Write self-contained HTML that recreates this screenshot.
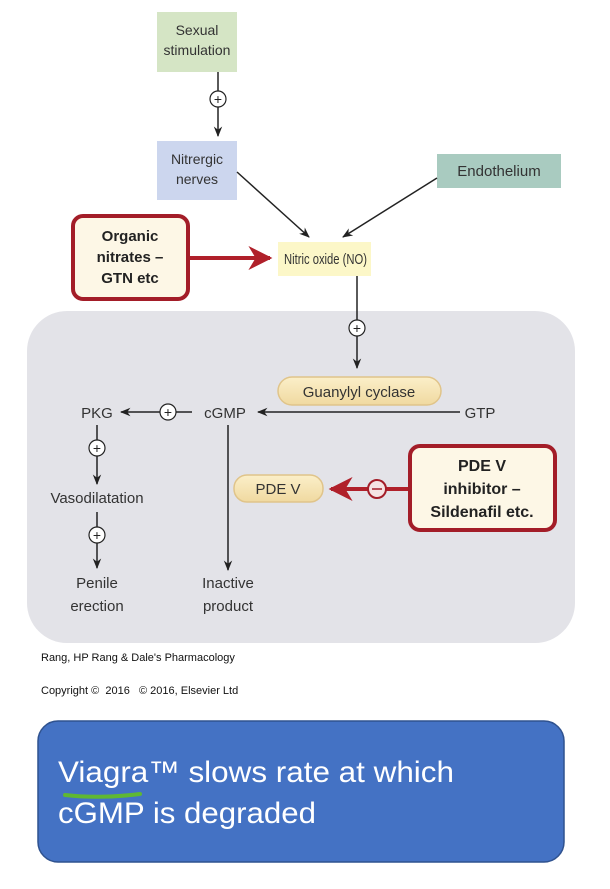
<!DOCTYPE html>
<html><head><meta charset="utf-8"><style>
html,body{margin:0;padding:0;background:#fff;}
svg{display:block;}
</style></head><body>
<svg width="610" height="889" viewBox="0 0 610 889" xmlns="http://www.w3.org/2000/svg" font-family="Liberation Sans, Arial, sans-serif">
<defs>
<marker id="a" viewBox="0 0 10 10" refX="9" refY="5" markerWidth="7" markerHeight="7" orient="auto"><path d="M0,1 L10,5 L0,9 L3,5z" fill="#222"/></marker>
<marker id="r" viewBox="0 0 10 10" refX="9" refY="5" markerWidth="6" markerHeight="6" orient="auto"><path d="M0,0 L10,5 L0,10 L3,5z" fill="#b0202a"/></marker>
<linearGradient id="pill" x1="0" y1="0" x2="0" y2="1"><stop offset="0" stop-color="#fbefc9"/><stop offset="1" stop-color="#f0d9a0"/></linearGradient>
</defs>
<rect x="27" y="311" width="548" height="332" rx="40" fill="#e3e3e8"/>
<rect x="157" y="12" width="80" height="60" fill="#d5e5c5"/>
<text x="197" y="35" font-size="14" text-anchor="middle" fill="#333">Sexual</text>
<text x="197" y="55" font-size="14" text-anchor="middle" fill="#333">stimulation</text>
<line x1="218" y1="72" x2="218" y2="136" stroke="#222" stroke-width="1.5" marker-end="url(#a)"/>
<circle cx="218" cy="99" r="8" fill="#fff" stroke="#222" stroke-width="1.2"/>
<text x="218" y="104" font-size="14" text-anchor="middle" fill="#222">+</text>
<rect x="157" y="141" width="80" height="59" fill="#ccd6ee"/>
<text x="197" y="164" font-size="14" text-anchor="middle" fill="#333">Nitrergic</text>
<text x="197" y="184" font-size="14" text-anchor="middle" fill="#333">nerves</text>
<rect x="437" y="154" width="124" height="34" fill="#a9cbc0"/>
<text x="499" y="176" font-size="15" text-anchor="middle" fill="#333">Endothelium</text>
<line x1="237" y1="172" x2="309" y2="237" stroke="#222" stroke-width="1.5" marker-end="url(#a)"/>
<line x1="437" y1="178" x2="343" y2="237" stroke="#222" stroke-width="1.5" marker-end="url(#a)"/>
<rect x="278" y="242" width="93" height="34" fill="#fcf7c8"/>
<text x="284" y="264" font-size="15" fill="#333" textLength="83" lengthAdjust="spacingAndGlyphs">Nitric oxide (NO)</text>
<rect x="73" y="216" width="115" height="83" rx="10" fill="#fdf7e6" stroke="#a31d28" stroke-width="4"/>
<text x="130" y="241" font-size="15" font-weight="bold" text-anchor="middle" fill="#222">Organic</text>
<text x="130" y="262" font-size="15" font-weight="bold" text-anchor="middle" fill="#222">nitrates –</text>
<text x="130" y="283" font-size="15" font-weight="bold" text-anchor="middle" fill="#222">GTN etc</text>
<line x1="190" y1="258" x2="270" y2="258" stroke="#b0202a" stroke-width="4" marker-end="url(#r)"/>
<line x1="357" y1="276" x2="357" y2="368" stroke="#222" stroke-width="1.5" marker-end="url(#a)"/>
<circle cx="357" cy="328" r="8" fill="#fff" stroke="#222" stroke-width="1.2"/>
<text x="357" y="333" font-size="14" text-anchor="middle" fill="#222">+</text>
<rect x="278" y="377" width="163" height="28" rx="14" fill="url(#pill)" stroke="#e0c48a" stroke-width="1.5"/>
<text x="359" y="397" font-size="15" text-anchor="middle" fill="#333">Guanylyl cyclase</text>
<text x="97" y="418" font-size="15" text-anchor="middle" fill="#333">PKG</text>
<text x="225" y="418" font-size="15" text-anchor="middle" fill="#333">cGMP</text>
<text x="480" y="418" font-size="15" text-anchor="middle" fill="#333">GTP</text>
<line x1="460" y1="412" x2="258" y2="412" stroke="#222" stroke-width="1.5" marker-end="url(#a)"/>
<line x1="192" y1="412" x2="121" y2="412" stroke="#222" stroke-width="1.5" marker-end="url(#a)"/>
<circle cx="168" cy="412" r="8" fill="#fff" stroke="#222" stroke-width="1.2"/>
<text x="168" y="417" font-size="14" text-anchor="middle" fill="#222">+</text>
<line x1="228" y1="425" x2="228" y2="570" stroke="#222" stroke-width="1.5" marker-end="url(#a)"/>
<text x="228" y="588" font-size="15" text-anchor="middle" fill="#333">Inactive</text>
<text x="228" y="611" font-size="15" text-anchor="middle" fill="#333">product</text>
<line x1="97" y1="425" x2="97" y2="484" stroke="#222" stroke-width="1.5" marker-end="url(#a)"/>
<circle cx="97" cy="448" r="8" fill="#fff" stroke="#222" stroke-width="1.2"/>
<text x="97" y="453" font-size="14" text-anchor="middle" fill="#222">+</text>
<text x="97" y="503" font-size="15" text-anchor="middle" fill="#333">Vasodilatation</text>
<line x1="97" y1="512" x2="97" y2="568" stroke="#222" stroke-width="1.5" marker-end="url(#a)"/>
<circle cx="97" cy="535" r="8" fill="#fff" stroke="#222" stroke-width="1.2"/>
<text x="97" y="540" font-size="14" text-anchor="middle" fill="#222">+</text>
<text x="97" y="588" font-size="15" text-anchor="middle" fill="#333">Penile</text>
<text x="97" y="611" font-size="15" text-anchor="middle" fill="#333">erection</text>
<rect x="234" y="475" width="89" height="27" rx="13" fill="url(#pill)" stroke="#e0c48a" stroke-width="1.5"/>
<text x="278" y="494" font-size="15" text-anchor="middle" fill="#333">PDE V</text>
<line x1="408" y1="489" x2="331" y2="489" stroke="#b0202a" stroke-width="4" marker-end="url(#r)"/>
<circle cx="377" cy="489" r="9" fill="#f5e3e3" stroke="#a31d28" stroke-width="2"/>
<line x1="372" y1="489" x2="382" y2="489" stroke="#a31d28" stroke-width="1.5"/>
<rect x="410" y="446" width="145" height="84" rx="10" fill="#fdf7e6" stroke="#a31d28" stroke-width="4"/>
<text x="482" y="471" font-size="16" font-weight="bold" text-anchor="middle" fill="#222">PDE V</text>
<text x="482" y="494" font-size="16" font-weight="bold" text-anchor="middle" fill="#222">inhibitor –</text>
<text x="482" y="517" font-size="16" font-weight="bold" text-anchor="middle" fill="#222">Sildenafil etc.</text>
<text x="41" y="661" font-size="11" fill="#111">Rang, HP Rang &amp; Dale's Pharmacology</text>
<text x="41" y="694" font-size="11" fill="#111" xml:space="preserve">Copyright ©  2016   © 2016, Elsevier Ltd</text>
<rect x="38" y="721" width="526" height="141" rx="20" fill="#4472c4" stroke="#2f528f" stroke-width="1.5"/>
<text x="58" y="782" font-size="30" fill="#fff" textLength="396" lengthAdjust="spacingAndGlyphs">Viagra™ slows rate at which</text>
<text x="58" y="823" font-size="30" fill="#fff" textLength="258" lengthAdjust="spacingAndGlyphs">cGMP is degraded</text>
<path d="M65,795 Q100,799 140,794" stroke="#5fb832" stroke-width="4" fill="none" stroke-linecap="round"/>
</svg>
</body></html>
